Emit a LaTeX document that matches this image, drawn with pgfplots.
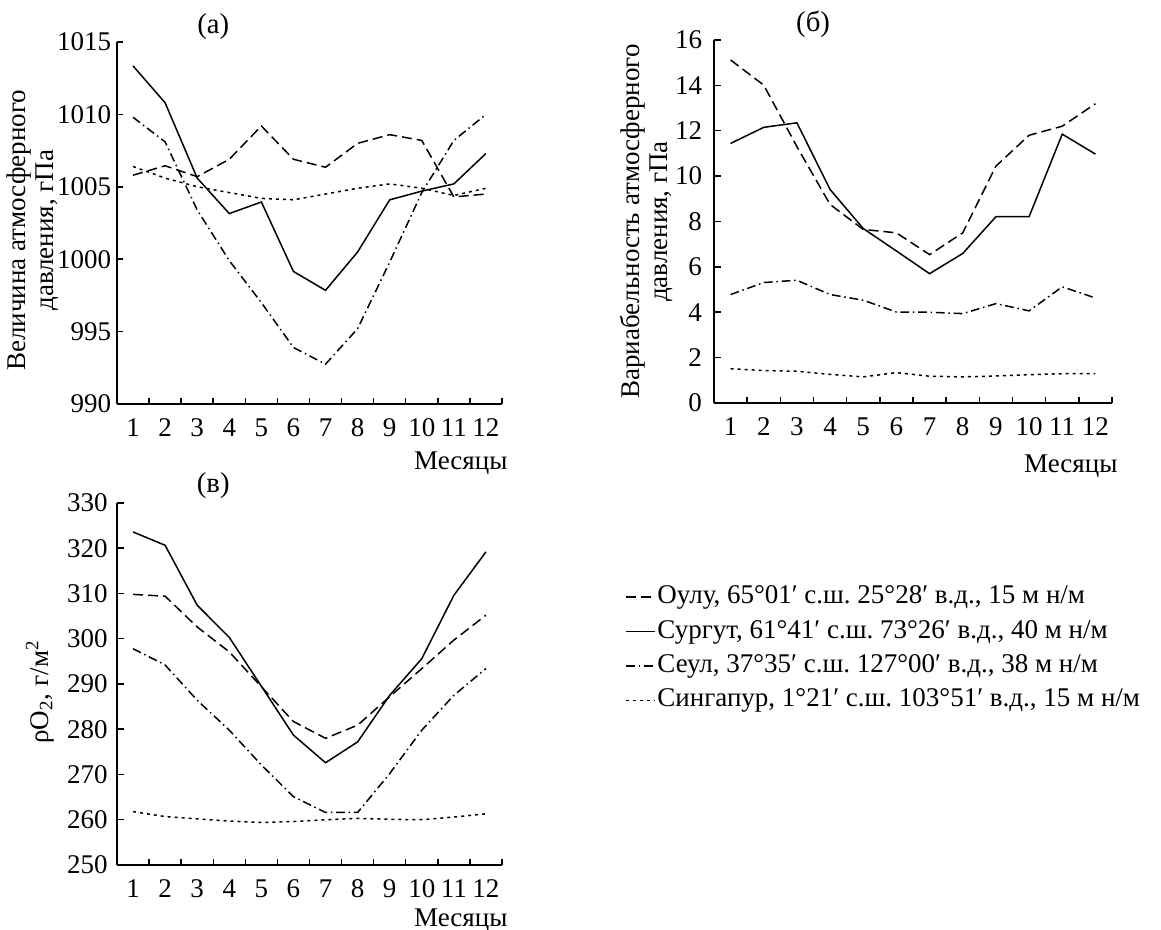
\documentclass[border=0pt]{standalone}
\usepackage{fontspec}
\setmainfont{Liberation Serif}
\usepackage{pgfplots}
\usepackage{pgfplotstable}
\pgfplotsset{compat=1.18}

% monthly values: Oulu, Surgut, Seoul, Singapore
\pgfplotstableread{
m oulu surgut seoul sing
1 1005.8 1013.35 1009.8 1006.4
2 1006.45 1010.8 1008.1 1005.6
3 1005.7 1005.6 1003.4 1005.0
4 1006.9 1003.15 999.9 1004.6
5 1009.2 1003.95 997.0 1004.2
6 1006.9 999.15 993.9 1004.1
7 1006.35 997.85 992.75 1004.5
8 1008.0 1000.5 995.2 1004.9
9 1008.6 1004.1 999.8 1005.2
10 1008.2 1004.7 1004.6 1004.9
11 1004.3 1005.2 1008.2 1004.4
12 1004.5 1007.3 1010.0 1004.9
}\pressure

\pgfplotstableread{
m oulu surgut seoul sing
1 15.12 11.44 4.78 1.51
2 14.01 12.15 5.31 1.43
3 11.3 12.35 5.41 1.40
4 8.75 9.41 4.78 1.26
5 7.65 7.69 4.53 1.15
6 7.5 6.7 4.01 1.34
7 6.54 5.7 4.0 1.18
8 7.5 6.59 3.94 1.15
9 10.44 8.21 4.38 1.19
10 11.8 8.21 4.06 1.25
11 12.2 11.85 5.12 1.29
12 13.19 10.97 4.63 1.29
}\variab

\pgfplotstableread{
m oulu surgut seoul sing
1 309.8 323.6 297.8 261.8
2 309.4 320.65 294.2 260.7
3 302.6 307.4 286.4 260.2
4 297.1 300.3 279.8 259.7
5 289.4 289.5 272.1 259.4
6 281.7 278.7 265.1 259.6
7 278.0 272.6 261.6 260.0
8 280.9 277.2 261.6 260.3
9 287.2 287.5 270.2 260.1
10 293.4 295.6 279.8 260.0
11 299.7 309.6 287.5 260.6
12 305.2 319.2 293.4 261.3
}\oxygen

\pgfplotsset{
  panel/.style={
    scale only axis,
    axis x line*=bottom, axis y line*=left,
    axis line style={line width=0.6pt},
    xmin=0.5, xmax=12.5,
    xtick={1,...,12},
    major x tick style={draw=none},
    minor xtick={0.5,1.5,...,12.5},
    tick align=inside,
    major tick length=2.6pt, minor tick length=2.4pt,
    tick style={black, line width=0.6pt},
    xticklabel style={yshift=-2pt},
    /pgf/number format/assume math mode=true,
    /pgf/number format/set thousands separator={},
    xlabel={Месяцы},
    xlabel style={at={(axis description cs:1,0)}, anchor=base east,
      inner sep=0pt, xshift=2.4pt, yshift=-26.4pt},
    ylabel style={anchor=center, align=center},
    title style={anchor=base, inner sep=0pt,
      font=\fontsize{11.5}{12}\selectfont},
  },
  oulu/.style={black, line width=0.6pt, dash pattern=on 4pt off 2pt},
  surgut/.style={black, line width=0.6pt},
  seoul/.style={black, line width=0.6pt,
    dash pattern=on 3.5pt off 1.5pt on 0.6pt off 1.5pt},
  sing/.style={black, line width=0.6pt, dash pattern=on 1.2pt off 1.6pt},
}

\begin{document}
\frenchspacing
\fontsize{10.8}{11.2}\selectfont
\begin{tikzpicture}
\begin{axis}[panel,
  at={(46.8pt,210.4pt)}, anchor=south west,
  width=154pt, height=144.8pt,
  ymin=990, ymax=1015, ytick={990,995,...,1015},
  yticklabel style={xshift=1.5pt},
  title={(а)}, title style={at={(axis description cs:0.25,1)}, yshift=-2.8pt},
  ylabel={Величина атмосферного\\давления, гПа},
  ylabel style={at={(axis description cs:-0.218,0.48)}},
]
\addplot[oulu] table[x=m, y=oulu] {\pressure};
\addplot[surgut] table[x=m, y=surgut] {\pressure};
\addplot[seoul] table[x=m, y=seoul] {\pressure};
\addplot[sing] table[x=m, y=sing] {\pressure};
\end{axis}

\begin{axis}[panel,
  at={(285.6pt,210.8pt)}, anchor=south west,
  width=159.2pt, height=145.2pt,
  ymin=0, ymax=16, ytick={0,2,...,16},
  yticklabel style={xshift=-1pt},
  title={(б)}, title style={at={(axis description cs:0.249,1)}, yshift=-2.8pt},
  ylabel={Вариабельность атмосферного\\давления, гПа},
  ylabel style={at={(axis description cs:-0.17,0.5)}},
  xlabel style={yshift=-1.6pt},
]
\addplot[oulu] table[x=m, y=oulu] {\variab};
\addplot[surgut] table[x=m, y=surgut] {\variab};
\addplot[seoul] table[x=m, y=seoul] {\variab};
\addplot[sing] table[x=m, y=sing] {\variab};
\end{axis}

\begin{axis}[panel,
  at={(46.8pt,26pt)}, anchor=south west,
  width=154pt, height=144.8pt,
  ymin=250, ymax=330, ytick={250,260,...,330},
  title={(в)}, title style={at={(axis description cs:0.25,1)}, yshift=-2pt},
  ylabel={ρO\textsubscript{2}, г/м\textsuperscript{2}},
  ylabel style={at={(axis description cs:-0.2,0.478)}},
  xlabel style={yshift=1.6pt},
  legend style={at={(axis description cs:1.32,0.597)}, anchor=west,
    draw=none, fill=none, inner sep=0pt, row sep=2.3pt,
    nodes={text height=7.7pt, text depth=2.6pt, inner sep=0.6pt},
    font=\fontsize{10.8}{11.2}\selectfont},
  legend cell align=left,
  legend image code/.code={\draw[#1] (0pt,0pt) -- (11.5pt,0pt);},
]
\addplot[oulu] table[x=m, y=oulu] {\oxygen};
\addlegendentry{Оулу, 65°01′ с.ш. 25°28′ в.д., 15 м н/м}
\addplot[surgut] table[x=m, y=surgut] {\oxygen};
\addlegendentry{Сургут, 61°41′ с.ш. 73°26′ в.д., 40 м н/м}
\addplot[seoul] table[x=m, y=seoul] {\oxygen};
\addlegendentry{Сеул, 37°35′ с.ш. 127°00′ в.д., 38 м н/м}
\addplot[sing] table[x=m, y=sing] {\oxygen};
\addlegendentry{Сингапур, 1°21′ с.ш. 103°51′ в.д., 15 м н/м}
\end{axis}

\pgfresetboundingbox
\path[use as bounding box] (0,0) rectangle (464.4pt,372pt);
\end{tikzpicture}
\end{document}
